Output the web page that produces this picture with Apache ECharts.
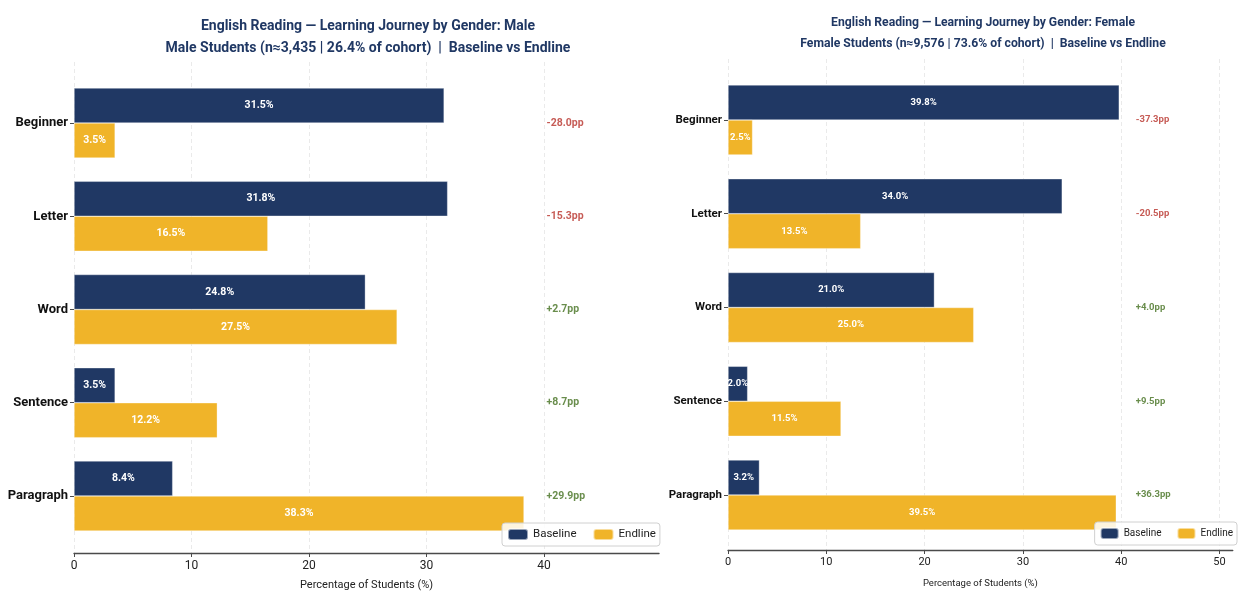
<!DOCTYPE html>
<html>
<head>
<meta charset="utf-8">
<script src="https://cdn.jsdelivr.net/npm/echarts@6/dist/echarts.min.js"></script>
<style>
  html, body { margin: 0; padding: 0; background: #fff; }
  #chart { width: 1239px; height: 595px; }
</style>
</head>
<body>
<div id="chart"></div>
<script>
// data
const levels = ['Beginner', 'Letter', 'Word', 'Sentence', 'Paragraph'];
const maleBaseline = [31.5, 31.8, 24.8, 3.5, 8.4];
const maleEndline = [3.5, 16.5, 27.5, 12.2, 38.3];
const femaleBaseline = [39.8, 34.0, 21.0, 2.0, 3.2];
const femaleEndline = [2.5, 13.5, 25.0, 11.5, 39.5];
const xTicks = [0, 10, 20, 30, 40, 50];

const FONT = 'Roboto, "DejaVu Sans Condensed", sans-serif';
const NAVY = '#203864';
const GOLD = '#f0b429';
const RED = '#b8322a';
const GREEN = '#44701f';
const AXIS = '#4a4a4a';

// the female panel in the reference is drawn a bit narrower
const sizes = [
    { bar: 10.5, ann: 10.5, ylab: 13, tick: 12, name: 11, nameGap: 27, legend: 11.5, legItem: 20, legGap: 16 },
    { bar: 9.5, ann: 9.5, ylab: 11.5, tick: 11, name: 9.5, nameGap: 29, legend: 10, legItem: 18, legGap: 15 }
];

function changeData(base, end, xpos) {
    return base.map(function (b, i) {
        return { value: [xpos, levels[i]], d: end[i] - b };
    });
}

function panel(idx, base, end) {
    let top = Math.max.apply(null, end);
    let sz = sizes[idx];
    let barLabel = {
        show: true,
        position: 'inside',
        color: '#fff',
        fontFamily: FONT,
        fontWeight: 'bold',
        fontSize: sz.bar,
        formatter: function (p) { return p.value.toFixed(1) + '%'; }
    };
    let edge = { borderColor: 'rgba(255,255,255,0.55)', borderWidth: 0.6 };
    return {
        xmax: top * 1.3,
        series: [
            {
                name: 'Baseline', type: 'bar', xAxisIndex: idx, yAxisIndex: idx,
                data: base, barWidth: 35, barGap: '0%',
                itemStyle: Object.assign({ color: NAVY }, edge),
                label: barLabel, z: 3
            },
            {
                name: 'Endline', type: 'bar', xAxisIndex: idx, yAxisIndex: idx,
                data: end, barWidth: 35, barGap: '0%',
                itemStyle: Object.assign({ color: GOLD }, edge),
                label: barLabel, z: 3
            },
            {
                name: 'change' + idx, type: 'scatter', xAxisIndex: idx, yAxisIndex: idx,
                data: changeData(base, end, top * 1.05), symbolSize: 0, silent: true,
                label: {
                    show: true, position: 'right', distance: 0,
                    formatter: function (p) {
                        let d = p.data.d;
                        let s = (d >= 0 ? '+' : '') + d.toFixed(1) + 'pp';
                        return d >= 0 ? '{g|' + s + '}' : '{r|' + s + '}';
                    },
                    rich: {
                        g: { color: GREEN, fontFamily: FONT, fontWeight: 'bold', fontSize: sz.ann },
                        r: { color: RED, fontFamily: FONT, fontWeight: 'bold', fontSize: sz.ann }
                    }
                }
            }
        ]
    };
}

let male = panel(0, maleBaseline, maleEndline);
let female = panel(1, femaleBaseline, femaleEndline);

// hidden x axis for the bar grids (same scale as the visible frame axis)
function dataXAxis(idx, xmax) {
    return { type: 'value', gridIndex: idx, min: 0, max: xmax, show: false };
}

// visible x axis on the frame grid, so the grid lines run the full height
function frameXAxis(idx, xmax, sz) {
    let ticks = xTicks.filter(function (v) { return v <= xmax; });
    return {
        type: 'value', gridIndex: idx, min: 0, max: xmax, interval: 10,
        name: 'Percentage of Students (%)', nameLocation: 'middle', nameGap: sz.nameGap,
        nameTextStyle: { fontFamily: FONT, fontSize: sz.name, color: '#222' },
        axisLine: { show: true, lineStyle: { color: AXIS, width: 1.3 } },
        axisTick: { show: true, length: 4, lineStyle: { color: AXIS }, customValues: ticks },
        axisLabel: { fontFamily: FONT, fontSize: sz.tick, color: '#222', margin: 7, customValues: ticks },
        splitLine: { show: true, lineStyle: { color: '#e4e4e4', type: [4, 3], width: 0.8 } }
    };
}

function dataYAxis(idx, sz) {
    return {
        type: 'category', gridIndex: idx, data: levels, inverse: true,
        axisLine: { show: false },
        axisTick: { show: true, alignWithLabel: true, length: 4, lineStyle: { color: AXIS } },
        axisLabel: { fontFamily: FONT, fontWeight: 'bold', fontSize: sz.ylab, color: '#111', margin: 6 }
    };
}

function frameYAxis(idx) {
    return {
        type: 'value', gridIndex: idx, min: 0, max: 1,
        axisLine: { show: false }, axisTick: { show: false },
        axisLabel: { show: false }, splitLine: { show: false }
    };
}

function legendFor(pos, sz) {
    return Object.assign({
        data: ['Baseline', 'Endline'],
        orient: 'horizontal', itemWidth: sz.legItem, itemHeight: 11, itemGap: sz.legGap,
        padding: [5, 4, 5, 5],
        borderColor: '#d0d0d0', borderWidth: 1, borderRadius: 3,
        backgroundColor: 'rgba(255,255,255,0.85)',
        textStyle: { fontFamily: FONT, fontSize: sz.legend, color: '#222' },
        selectedMode: false
    }, pos);
}

let option = {
    animation: false,
    backgroundColor: '#fff',
    title: [
        {
            text: 'English Reading — Learning Journey by Gender: Male\nMale Students (n≈3,435 | 26.4% of cohort)  |  Baseline vs Endline',
            left: 363, top: 10, textAlign: 'center',
            textStyle: { fontFamily: FONT, fontWeight: 'bold', fontSize: 14, color: NAVY, lineHeight: 22 }
        },
        {
            text: 'English Reading — Learning Journey by Gender: Female\nFemale Students (n≈9,576 | 73.6% of cohort)  |  Baseline vs Endline',
            left: 978, top: 7.5, textAlign: 'center',
            textStyle: { fontFamily: FONT, fontWeight: 'bold', fontSize: 12.2, color: NAVY, lineHeight: 21 }
        }
    ],
    legend: [
        legendFor({ left: 502, top: 523 }, sizes[0]),
        legendFor({ right: 2, top: 522 }, sizes[1])
    ],
    grid: [
        { left: 74, width: male.xmax * 11.75, top: 76.4, height: 466.2, outerBoundsMode: 'none', containLabel: false },
        { left: 728, width: female.xmax * 9.83, top: 73.1, height: 468.8, outerBoundsMode: 'none', containLabel: false },
        { left: 74, width: male.xmax * 11.75, top: 62, height: 491, outerBoundsMode: 'none', containLabel: false },
        { left: 728, width: female.xmax * 9.83, top: 59, height: 491, outerBoundsMode: 'none', containLabel: false }
    ],
    xAxis: [
        dataXAxis(0, male.xmax), dataXAxis(1, female.xmax),
        frameXAxis(2, male.xmax, sizes[0]), frameXAxis(3, female.xmax, sizes[1])
    ],
    yAxis: [dataYAxis(0, sizes[0]), dataYAxis(1, sizes[1]), frameYAxis(2), frameYAxis(3)],
    series: male.series.concat(female.series)
};

let myChart = echarts.init(document.getElementById('chart'));
myChart.setOption(option);
</script>
</body>
</html>
